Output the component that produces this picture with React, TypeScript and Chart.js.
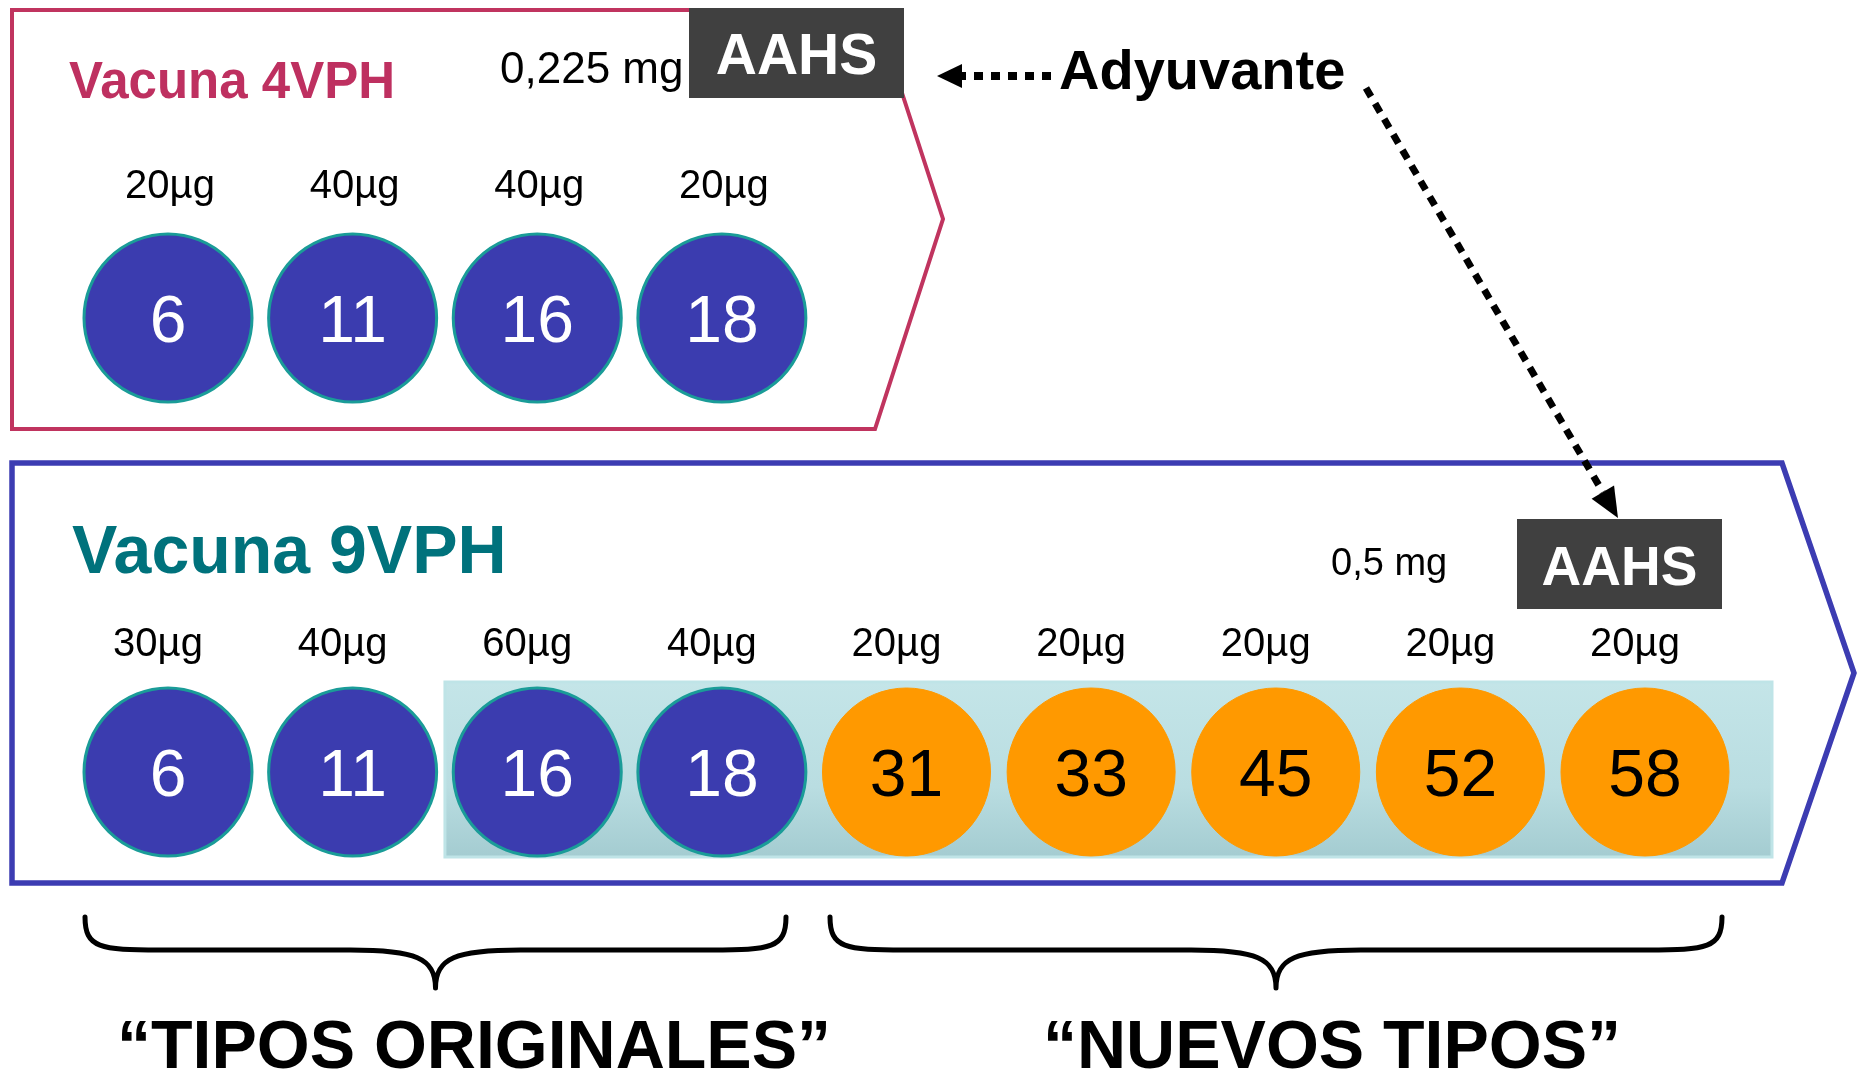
import { useEffect, useRef } from 'react';
import { Chart, registerables } from 'chart.js';

Chart.register(...registerables);

// ---------- data ----------
const quadrivalentTypes = ['6', '11', '16', '18'];
const quadrivalentDoses = [20, 40, 40, 20];
const nonavalentTypes = ['6', '11', '16', '18', '31', '33', '45', '52', '58'];
const nonavalentDoses = [30, 40, 60, 40, 20, 20, 20, 20, 20];
const originalTypeCount = 4;
const vaccineNames = ['Vacuna 4VPH', 'Vacuna 9VPH'];
const adjuvantAmounts = ['0,225 mg', '0,5 mg'];
const adjuvantName = 'AAHS';
const adjuvantLabel = 'Adyuvante';
const groupLabels = ['\u201CTIPOS ORIGINALES\u201D', '\u201CNUEVOS TIPOS\u201D'];
const doseUnit = '\u00B5g';

// ---------- styling ----------
const W = 1858;
const H = 1072;
const FONT = '"Liberation Sans", Arial, sans-serif';
const BLUE = '#3B3CAF';
const TEAL_RING = '#1A9C98';
const ORANGE = '#FF9900';
const CRIMSON = '#C0345F';
const NAVY = '#3C3CB2';
const TEAL_TEXT = '#00727C';
const DARK = '#404040';

const X_UNIT = 184.625;
const X0 = 168;
const Y_UNIT = 454;
const Y0 = 318;

const diagramPlugin = {
  id: 'diagram',
  beforeDatasetsDraw(chart: any) {
    const ctx = chart.ctx as CanvasRenderingContext2D;
    const xs = chart.scales.x;
    const ys = chart.scales.y;
    const px = (v: number) => xs.getPixelForValue(v);
    const py = (v: number) => ys.getPixelForValue(v);
    ctx.save();
    // top pentagon (4VPH)
    ctx.lineJoin = 'miter';
    ctx.strokeStyle = CRIMSON;
    ctx.lineWidth = 4;
    ctx.beginPath();
    ctx.moveTo(12, 10);
    ctx.lineTo(875, 10);
    ctx.lineTo(943, 219);
    ctx.lineTo(875, 429);
    ctx.lineTo(12, 429);
    ctx.closePath();
    ctx.stroke();
    // bottom pentagon (9VPH)
    ctx.strokeStyle = NAVY;
    ctx.lineWidth = 5.5;
    ctx.beginPath();
    ctx.moveTo(12, 463);
    ctx.lineTo(1782, 463);
    ctx.lineTo(1854, 673);
    ctx.lineTo(1782, 883);
    ctx.lineTo(12, 883);
    ctx.closePath();
    ctx.stroke();
    // shaded band behind types 16..58
    const left = (px(1) + px(2)) / 2;
    const right = px(nonavalentTypes.length - 1) + 127;
    const cy = py(1);
    const top = cy - 90;
    const bottom = cy + 85;
    const g = ctx.createLinearGradient(0, top, 0, bottom);
    g.addColorStop(0, '#C4E5E8');
    g.addColorStop(0.6, '#B9DDE1');
    g.addColorStop(1, '#A4CCD1');
    ctx.fillStyle = g;
    ctx.fillRect(left, top, right - left, bottom - top);
    ctx.strokeStyle = '#BFE4E7';
    ctx.lineWidth = 3;
    ctx.strokeRect(left, top, right - left, bottom - top);
    ctx.restore();
  },
  afterDatasetsDraw(chart: any) {
    const ctx = chart.ctx as CanvasRenderingContext2D;
    ctx.save();
    ctx.textAlign = 'center';
    ctx.textBaseline = 'alphabetic';

    // numbers inside circles + dose labels
    const rows = [
      { metas: [0], types: quadrivalentTypes, doses: quadrivalentDoses, dx: 2, dy: -120 },
      { metas: [1, 2], types: nonavalentTypes, doses: nonavalentDoses, dx: -10, dy: -116 },
    ];
    rows.forEach((row) => {
      const pts: any[] = [];
      row.metas.forEach((m) => chart.getDatasetMeta(m).data.forEach((p: any) => pts.push(p)));
      pts.forEach((p, i) => {
        ctx.font = `66px ${FONT}`;
        ctx.fillStyle = i < originalTypeCount ? '#FFFFFF' : '#000000';
        ctx.fillText(row.types[i], p.x, p.y + 24);
        ctx.font = `40px ${FONT}`;
        ctx.fillStyle = '#000000';
        ctx.fillText(`${row.doses[i]}${doseUnit}`, p.x + row.dx, p.y + row.dy);
      });
    });

    // titles
    ctx.textAlign = 'left';
    ctx.font = `bold 51px ${FONT}`;
    ctx.fillStyle = '#BE3060';
    ctx.fillText(vaccineNames[0], 69, 98);
    ctx.font = `bold 68px ${FONT}`;
    ctx.fillStyle = TEAL_TEXT;
    ctx.fillText(vaccineNames[1], 72, 573);

    // adjuvant amounts
    ctx.fillStyle = '#000000';
    ctx.font = `44px ${FONT}`;
    ctx.fillText(adjuvantAmounts[0], 500, 83);
    ctx.font = `38px ${FONT}`;
    ctx.fillText(adjuvantAmounts[1], 1331, 575);

    // AAHS boxes
    ctx.fillStyle = DARK;
    ctx.fillRect(689, 8, 215, 90);
    ctx.fillRect(1517, 519, 205, 90);
    ctx.fillStyle = '#FFFFFF';
    ctx.textAlign = 'center';
    ctx.font = `bold 57px ${FONT}`;
    ctx.fillText(adjuvantName, 796.5, 74);
    ctx.font = `bold 55px ${FONT}`;
    ctx.fillText(adjuvantName, 1619.5, 585);

    // Adyuvante label
    ctx.textAlign = 'left';
    ctx.fillStyle = '#000000';
    ctx.font = `bold 56px ${FONT}`;
    ctx.fillText(adjuvantLabel, 1059, 89);

    // left dotted arrow
    ctx.strokeStyle = '#000000';
    ctx.lineCap = 'butt';
    ctx.lineWidth = 8;
    ctx.setLineDash([9, 8]);
    ctx.beginPath();
    ctx.moveTo(1051, 76);
    ctx.lineTo(962, 76);
    ctx.stroke();
    ctx.setLineDash([]);
    ctx.beginPath();
    ctx.moveTo(937, 76);
    ctx.lineTo(962, 64);
    ctx.lineTo(962, 88);
    ctx.closePath();
    ctx.fillStyle = '#000000';
    ctx.fill();

    // diagonal dotted arrow
    const sx = 1366, sy = 88, tx = 1618, ty = 518;
    const len = Math.hypot(tx - sx, ty - sy);
    const ux = (tx - sx) / len, uy = (ty - sy) / len;
    const head = 30, hw = 13;
    const bx = tx - ux * head, by = ty - uy * head;
    ctx.lineWidth = 7;
    ctx.setLineDash([10, 8]);
    ctx.beginPath();
    ctx.moveTo(sx, sy);
    ctx.lineTo(bx, by);
    ctx.stroke();
    ctx.setLineDash([]);
    ctx.beginPath();
    ctx.moveTo(tx, ty);
    ctx.lineTo(bx - uy * hw, by + ux * hw);
    ctx.lineTo(bx + uy * hw, by - ux * hw);
    ctx.closePath();
    ctx.fill();

    // braces
    const brace = (xl: number, xr: number, yTop: number, yMid: number, yTip: number) => {
      const cx = (xl + xr) / 2;
      ctx.lineJoin = 'round';
      ctx.lineCap = 'round';
      ctx.lineWidth = 5;
      ctx.beginPath();
      ctx.moveTo(xl, yTop);
      ctx.bezierCurveTo(xl, yMid - 2, xl + 15, yMid, xl + 75, yMid);
      ctx.lineTo(cx - 85, yMid);
      ctx.bezierCurveTo(cx - 20, yMid, cx, yMid + 8, cx, yTip);
      ctx.moveTo(xr, yTop);
      ctx.bezierCurveTo(xr, yMid - 2, xr - 15, yMid, xr - 75, yMid);
      ctx.lineTo(cx + 85, yMid);
      ctx.bezierCurveTo(cx + 20, yMid, cx, yMid + 8, cx, yTip);
      ctx.stroke();
    };
    brace(85, 786, 917, 950, 988);
    brace(830, 1722, 917, 950, 988);

    // group labels
    ctx.textAlign = 'center';
    ctx.font = `bold 68px ${FONT}`;
    ctx.fillText(groupLabels[0], 474, 1068);
    ctx.fillText(groupLabels[1], 1332, 1068);
    ctx.restore();
  },
};

export default function App() {
  const ref = useRef<HTMLCanvasElement>(null);
  useEffect(() => {
    document.body.style.margin = '0';
    document.body.style.overflow = 'hidden';
    const canvas = ref.current!;
    const pointStyle = { pointRadius: 84, pointHoverRadius: 84, pointBorderWidth: 3, pointHoverBorderWidth: 3 };
    const chart = new Chart(canvas, {
      type: 'scatter',
      data: {
        datasets: [
          {
            label: vaccineNames[0],
            data: quadrivalentTypes.map((_, i) => ({ x: i, y: 0 })),
            backgroundColor: BLUE,
            borderColor: TEAL_RING,
            ...pointStyle,
          },
          {
            label: `${vaccineNames[1]} originales`,
            data: nonavalentTypes.slice(0, originalTypeCount).map((_, i) => ({ x: i, y: 1 })),
            backgroundColor: BLUE,
            borderColor: TEAL_RING,
            ...pointStyle,
          },
          {
            label: `${vaccineNames[1]} nuevos`,
            data: nonavalentTypes.slice(originalTypeCount).map((_, i) => ({ x: i + originalTypeCount, y: 1 })),
            backgroundColor: ORANGE,
            borderColor: ORANGE,
            ...pointStyle,
            pointBorderWidth: 1,
          },
        ],
      },
      options: {
        responsive: false,
        animation: false,
        devicePixelRatio: 1,
        layout: { padding: 0, autoPadding: false },
        events: [],
        plugins: { legend: { display: false }, tooltip: { enabled: false } },
        scales: {
          x: { type: 'linear', display: false, min: -X0 / X_UNIT, max: (W - X0) / X_UNIT },
          y: { type: 'linear', display: false, reverse: true, min: -Y0 / Y_UNIT, max: (H - Y0) / Y_UNIT },
        },
      } as any,
      plugins: [diagramPlugin],
    });
    return () => chart.destroy();
  }, []);
  return <canvas ref={ref} width={W} height={H} style={{ display: 'block', width: W, height: H }} />;
}
